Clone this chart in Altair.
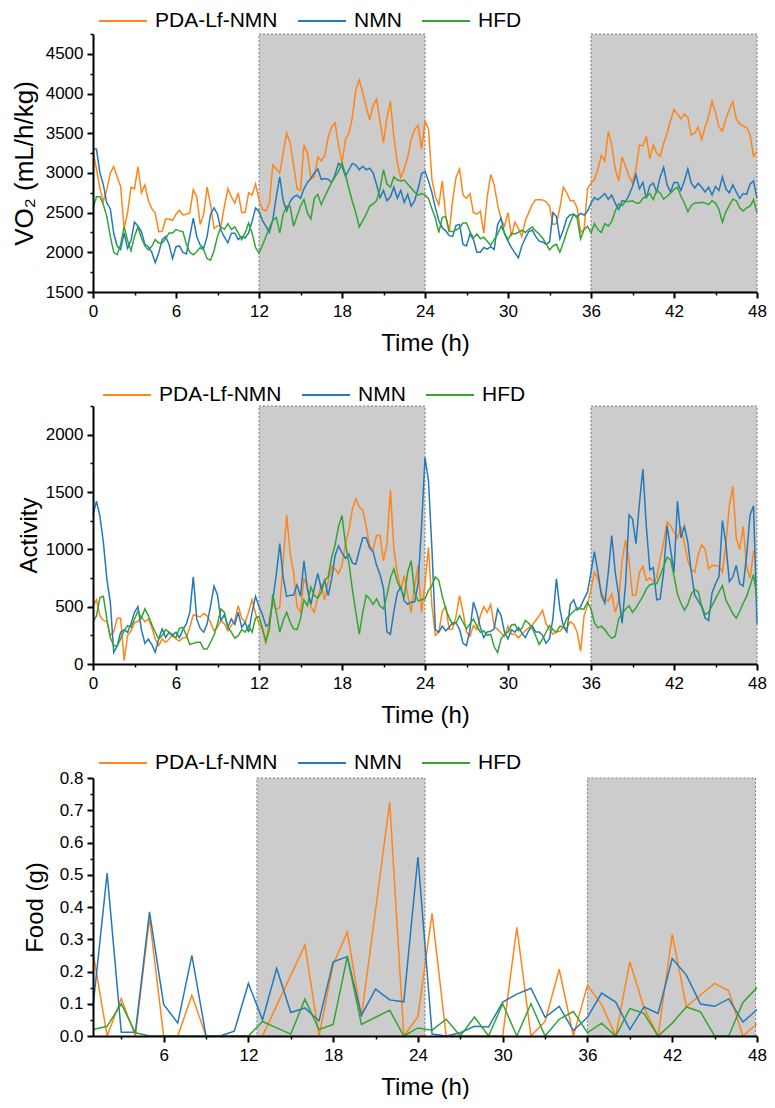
import altair as alt
import pandas as pd

SERIES = ["PDA-Lf-NMN", "NMN", "HFD"]
COLORS = ["#ff8518", "#2479bb", "#33a533"]
FONT = "Liberation Sans"

# time grid for VO2 / activity (every 0.25 h, 0..48)
time_h = [i * 0.25 for i in range(193)]

vo2_pda = [
    3270, 3050, 2800, 2640, 2790, 3000, 3080, 2950,
    2830, 2300, 2500, 2820, 2800, 3080, 2750, 2850,
    2650, 2550, 2495, 2260, 2265, 2420, 2420, 2400,
    2480, 2530, 2470, 2480, 2500, 2790, 2700, 2350,
    2480, 2820, 2600, 2300, 2330, 2340, 2580, 2800,
    2700, 2620, 2750, 2500, 2500, 2750, 2720, 2860,
    2665, 2540, 2520, 2620, 3100, 3050, 3000, 3250,
    3500, 3380, 3100, 2800, 2780, 3350, 3250, 2930,
    2950, 3200, 3150, 3220, 3450, 3580, 3630, 3350,
    3130, 3420, 3500, 3700, 4050, 4170, 4010, 3830,
    3670, 3850, 3930, 3650, 3380, 3700, 3900, 3450,
    3125, 2940, 3050, 3200, 3420, 3550, 3600, 3300,
    3650, 3560, 2920, 2700, 2600, 2900, 2450, 2250,
    2660, 2950, 3050, 2720, 2680, 2740, 2500, 2480,
    2520, 2240, 2700, 2980, 2850, 2600, 2420, 2330,
    2500, 2200, 2380, 2300, 2200, 2400, 2500, 2600,
    2663, 2663, 2660, 2640, 2580, 2350, 2360, 2560,
    2820, 2750, 2650, 2650, 2560, 2250, 2290, 2800,
    2870, 2920, 3050, 3220, 3150, 3520, 3350, 3050,
    2900, 3200, 3080, 2960, 2870, 3050, 3350, 3340,
    3460, 3180, 3350, 3250, 3210, 3370, 3500, 3660,
    3800, 3740, 3680, 3740, 3700, 3480, 3500, 3580,
    3420, 3580, 3710, 3900, 3760, 3580, 3525, 3680,
    3800, 3900, 3680, 3620, 3590, 3570, 3480, 3210,
    3270,
]
vo2_nmn = [
    3300, 3300, 3000, 2850, 2620, 2550, 2240, 2075,
    2034, 2244, 2050, 2150, 2380, 2330, 2260, 2100,
    2070, 2000, 1870, 1990, 2160, 2200, 2100, 1920,
    2070, 2080, 2000, 1980, 2200, 2430, 2200, 2090,
    2050, 2200, 2480, 2560, 2480, 2280, 2190, 2120,
    2240, 2240, 2160, 2200, 2180, 2244, 2390, 2560,
    2517, 2400, 2330, 2250, 2412, 2700, 2950, 2650,
    2520, 2640, 2700, 2720, 2680, 2800, 2880, 2930,
    3000, 3050, 2920, 2930, 2920, 2880, 2980, 3120,
    3084, 2960, 3040, 3120, 3100, 3040, 3084, 3040,
    3060, 3000, 2850, 2690, 2780, 2650, 2700, 2820,
    2680, 2780, 2630, 2730, 2580, 2650, 2800, 2990,
    3020, 2900, 2750, 2560, 2400, 2310, 2270, 2210,
    2200, 2340, 2350, 2100, 2080, 2230, 2160, 2000,
    2000, 2060, 2040, 2070, 2034, 2350, 2430, 2230,
    2140, 2060, 1992, 1930, 2080, 2180, 2260, 2280,
    2200, 2140, 2130, 2100, 2130, 2500, 2450, 2170,
    2280, 2430, 2470, 2480, 2450, 2490, 2470, 2520,
    2620, 2690, 2660, 2700, 2740, 2670, 2720, 2620,
    2540, 2650, 2640, 2720, 2830, 2980, 2800, 2880,
    2680, 2840, 2870, 2760, 2950, 3070, 2850, 2760,
    2880, 2880, 2780, 2900, 3050, 2870, 2810, 2870,
    2820, 2760, 2820, 2720, 2830, 2780, 2950, 2800,
    2750, 2850, 2760, 2680, 2740, 2730, 2860, 2900,
    2680,
]
vo2_hfd = [
    2550, 2700, 2700, 2600, 2450, 2200, 2000, 1970,
    2100, 2320, 2150, 2020, 2200, 2320, 2180, 2080,
    2030, 2076, 2160, 2118, 2118, 2170, 2244, 2244,
    2286, 2270, 2260, 2100, 2000, 1970, 2010, 2060,
    2030, 1920, 1900, 2020, 2200, 2320, 2290, 2360,
    2286, 2320, 2244, 2160, 2244, 2370, 2244, 2060,
    1990, 2090, 2200, 2310, 2400, 2440, 2244, 2480,
    2580, 2580, 2328, 2454, 2580, 2664, 2496, 2420,
    2680, 2730, 2600, 2700, 2790, 2880, 2950, 3020,
    3126, 2980, 2800, 2640, 2496, 2320, 2400, 2480,
    2580, 2610, 2650, 2800, 3042, 2860, 2820, 2950,
    2910, 2900, 2910, 2860, 2810, 2760, 2720, 2740,
    2720, 2680, 2550, 2430, 2250, 2440, 2450, 2270,
    2260, 2280, 2310, 2370, 2370, 2260, 2180, 2230,
    2170, 2190, 2140, 2090, 2160, 2230, 2328, 2244,
    2160, 2240, 2230, 2250, 2280, 2250, 2290, 2320,
    2270, 2230, 2180, 2110, 2030, 2080, 2100, 2000,
    2120, 2260, 2380, 2480, 2430, 2170, 2286, 2328,
    2244, 2360, 2286, 2250, 2360, 2330, 2390, 2520,
    2610, 2590, 2640, 2640, 2650, 2620, 2620, 2680,
    2706, 2740, 2664, 2780, 2748, 2670, 2706, 2748,
    2790, 2820, 2706, 2620, 2510, 2590, 2620, 2620,
    2630, 2620, 2600, 2650, 2620, 2540, 2380, 2510,
    2590, 2670, 2650, 2560, 2520, 2560, 2580, 2664,
    2500,
]

act_pda = [
    509, 560, 420, 380, 370, 250, 280, 400,
    400, 30, 250, 290, 360, 370, 410, 370,
    393, 320, 218, 160, 218, 190, 218, 260,
    218, 200, 230, 230, 320, 430, 420, 410,
    440, 420, 360, 290, 320, 380, 350, 290,
    335, 380, 509, 400, 364, 451, 560, 440,
    350, 300, 170, 400, 530, 480, 490, 900,
    1300, 970, 800, 500, 451, 740, 684, 500,
    451, 590, 684, 560, 720, 850, 830, 790,
    860, 1050, 1170, 1350, 1440, 1370, 1340, 1200,
    1030, 1000, 1120, 1120, 900, 1050, 1520, 1000,
    790, 650, 770, 600, 451, 684, 858, 451,
    700, 1020, 509, 250, 280, 460, 500, 300,
    306, 420, 597, 451, 277, 240, 335, 300,
    422, 500, 451, 520, 330, 300, 270, 240,
    330, 260, 260, 230, 260, 290, 315, 340,
    380, 420, 470, 350, 300, 260, 280, 285,
    320, 310, 370, 345, 277, 110, 422, 509,
    655, 800, 742, 620, 568, 550, 610, 451,
    550, 900, 1080, 900, 600, 600, 800, 850,
    730, 750, 720, 750, 917, 1060, 1237, 1208,
    1150, 1100, 1200, 1050, 900, 820, 800, 950,
    1040, 1000, 830, 860, 860, 850, 800, 1050,
    1380, 1550, 1100, 1000, 1200, 850, 750, 980,
    960,
]
act_nmn = [
    1300, 1420, 1290, 1060, 742, 540, 100, 160,
    277, 300, 277, 350, 450, 500, 300, 180,
    218, 170, 102, 218, 306, 230, 277, 250,
    277, 230, 300, 350, 450, 760, 393, 310,
    277, 350, 509, 680, 600, 380, 430, 320,
    393, 345, 451, 320, 364, 277, 451, 590,
    500, 430, 330, 350, 560, 780, 1050, 750,
    590, 600, 600, 690, 590, 900, 650, 520,
    660, 790, 655, 730, 597, 742, 946, 1030,
    970, 920, 960, 880, 870, 990, 1100, 1100,
    1010, 980, 860, 780, 660, 280, 260, 460,
    620, 670, 550, 520, 540, 540, 700, 1200,
    1800, 1600, 1004, 300, 277, 330, 290, 320,
    360, 360, 300, 180, 160, 300, 540, 450,
    320, 230, 280, 285, 306, 480, 422, 277,
    218, 300, 277, 320, 270, 230, 290, 330,
    280, 280, 250, 180, 220, 400, 742, 480,
    330, 280, 520, 560, 470, 500, 568, 626,
    800, 980, 800, 600, 530, 800, 1121, 800,
    600, 355, 700, 1300, 1266, 1050, 1400, 1700,
    1200, 820, 840, 560, 568, 800, 1208, 1000,
    800, 1420, 1100, 1200, 1063, 800, 600, 550,
    500, 400, 380, 620, 700, 760, 1250, 1050,
    720, 760, 860, 700, 680, 950, 1300, 1380,
    350,
]
act_hfd = [
    364, 420, 580, 590, 393, 230, 160, 160,
    218, 290, 335, 320, 393, 460, 400, 480,
    422, 345, 277, 218, 247, 300, 277, 240,
    230, 310, 320, 250, 170, 180, 190, 190,
    130, 130, 190, 250, 350, 480, 450, 320,
    277, 225, 247, 300, 277, 335, 277, 400,
    415, 310, 200, 300, 610, 450, 277, 380,
    451, 364, 306, 300, 393, 560, 509, 670,
    597, 575, 626, 730, 760, 930, 1040, 1200,
    1295, 1050, 880, 650, 450, 260, 451, 600,
    568, 520, 568, 505, 480, 600, 750, 830,
    720, 650, 590, 800, 900, 620, 550, 560,
    568, 640, 684, 760, 730, 590, 480, 400,
    345, 360, 422, 364, 306, 350, 393, 330,
    277, 290, 250, 260, 150, 100, 220, 260,
    280, 340, 345, 290, 310, 380, 355, 315,
    247, 170, 218, 277, 335, 300, 277, 330,
    320, 400, 430, 460, 490, 480, 480, 540,
    480, 360, 315, 330, 300, 255, 225, 240,
    393, 440, 480, 509, 451, 490, 539, 590,
    655, 690, 700, 700, 770, 850, 930, 910,
    770, 610, 530, 470, 520, 610, 650, 630,
    509, 430, 451, 509, 568, 626, 684, 560,
    500, 440, 400, 460, 530, 590, 680, 780,
    568,
]

# hourly food intake, hours 1..48
food_h = list(range(1, 49))
food_pda = [0.26, 0, 0.116, 0, 0.367, 0, 0, 0.126, 0, 0,
            0, 0, 0, 0.094, 0.188, 0.282, 0, 0.222, 0.322, 0.06,
            0.39, 0.725, 0, 0.06, 0.38, 0, 0, 0, 0, 0,
            0.337, 0, 0.045, 0.207, 0, 0.157, 0.098, 0, 0.23, 0.088,
            0, 0.315, 0.091, 0.127, 0.163, 0.14, 0, 0.038]
food_nmn = [0.09, 0.505, 0.012, 0.012, 0.385, 0.098, 0.04, 0.25, 0, 0,
            0.015, 0.163, 0.05, 0.21, 0.073, 0.087, 0.047, 0.23, 0.246, 0.064,
            0.145, 0.112, 0.106, 0.555, 0.006, 0, 0.01, 0.03, 0.028, 0.105,
            0.13, 0.148, 0.058, 0.092, 0.017, 0.058, 0.133, 0.105, 0.02, 0.09,
            0.07, 0.24, 0.189, 0.099, 0.092, 0.115, 0.043, 0.082]
food_hfd = [0.02, 0.03, 0.1, 0.01, 0, 0, 0, 0, 0, 0,
            0, 0, 0.045, 0.025, 0.006, 0.114, 0.02, 0.036, 0.246, 0.036,
            0.058, 0.08, 0, 0.025, 0.018, 0.052, 0, 0.059, 0, 0.1,
            0, 0.1, 0, 0.052, 0.076, 0.01, 0.04, 0, 0.085, 0.07,
            0, 0.04, 0.09, 0.075, 0, 0, 0.104, 0.15]

# dark-phase shading (hours)
dark_main = ([12, 36], [24, 48])
dark_food = ([12.6, 36], [24.5, 47.9])

x_major = [0, 6, 12, 18, 24, 30, 36, 42, 48]
x_minor = [3, 9, 15, 21, 27, 33, 39, 45]
x_major_food = [6, 12, 18, 24, 30, 36, 42, 48]


def long_df(t, arrays):
    rows = []
    for name, arr in zip(SERIES, arrays):
        for tt, vv in zip(t, arr):
            rows.append({"t": tt, "v": vv, "s": name})
    return pd.DataFrame(rows)


W, H = 664, 258


def panel(df, ydom, ymaj, ymin, yfmt, ytitle, ytpad, ytsize, xdom, xmaj, shade, leg_y, leg_pad):
    xs = alt.Scale(domain=xdom, nice=False, zero=False)
    ys = alt.Scale(domain=ydom, nice=False, zero=False)
    sdf = pd.DataFrame({"lo": shade[0], "hi": shade[1]})
    rect = alt.Chart(sdf).mark_rect(
        fill="#cccccc", stroke="#7a7a7a", strokeWidth=1, strokeDash=[2, 2]
    ).encode(
        x=alt.X("lo:Q", scale=xs, axis=None),
        x2="hi:Q",
        y=alt.value(0),
        y2=alt.value(H),
    )
    lines = alt.Chart(df).mark_line(strokeWidth=1.5).encode(
        x=alt.X("t:Q", scale=xs, axis=alt.Axis(
            values=xmaj, title="Time (h)", orient="bottom", zindex=1,
            labelPadding=5, titlePadding=12)),
        y=alt.Y("v:Q", scale=ys, axis=alt.Axis(
            values=ymaj, format=yfmt, title=ytitle, orient="left", zindex=1,
            labelPadding=4, titlePadding=ytpad, titleFontSize=ytsize)),
        color=alt.Color("s:N", scale=alt.Scale(domain=SERIES, range=COLORS),
                        legend=alt.Legend(
                            orient="none", legendX=17, legendY=leg_y,
                            direction="horizontal", title=None,
                            symbolType="M-2,0H2", symbolSize=576,
                            symbolStrokeWidth=2, labelFontSize=21,
                            labelFont=FONT, labelColor="black",
                            columnPadding=16, labelOffset=19,
                            padding=leg_pad)),
    )
    mdf = pd.DataFrame({"t": xdom, "v": ydom})
    minor = alt.Chart(mdf).mark_point(opacity=0).encode(
        x=alt.X("t:Q", scale=xs, axis=alt.Axis(
            values=x_minor, labels=False, domain=False, tickSize=3,
            tickWidth=1.5, title=None, orient="bottom", zindex=1)),
        y=alt.Y("v:Q", scale=ys, axis=alt.Axis(
            values=ymin, labels=False, domain=False, tickSize=3,
            tickWidth=1.5, title=None, orient="left", zindex=1)),
    )
    return alt.layer(rect, lines, minor).resolve_axis(
        x="independent", y="independent").properties(width=W, height=H)


p1 = panel(long_df(time_h, [vo2_pda, vo2_nmn, vo2_hfd]),
           [1500, 4750], [1500, 2000, 2500, 3000, 3500, 4000, 4500],
           [1750, 2250, 2750, 3250, 3750, 4250, 4750], "d",
           "VO\u2082 (mL/h/kg)", 8, 26, [0, 48], x_major, dark_main, -26, 0)
p2 = panel(long_df(time_h, [act_pda, act_nmn, act_hfd]),
           [0, 2250], [0, 500, 1000, 1500, 2000],
           [250, 750, 1250, 1750, 2250], "d",
           "Activity", 4, 24, [0, 48], x_major, dark_main, -28, 4)
p3 = panel(long_df(food_h, [food_pda, food_nmn, food_hfd]),
           [0, 0.8], [0, 0.1, 0.2, 0.3, 0.4, 0.5, 0.6, 0.7, 0.8],
           [0.05, 0.15, 0.25, 0.35, 0.45, 0.55, 0.65, 0.75], ".1f",
           "Food (g)", 12, 24, [1, 48], x_major_food, dark_food, -28, 0)

chart = alt.vconcat(p1, p2, p3, spacing=23).resolve_scale(
    x="independent", y="independent", color="shared"
).resolve_legend(color="independent").properties(
    padding={"left": 3, "top": 0, "right": 0, "bottom": 0}
).configure_view(stroke=None).configure_axis(
    labelFont=FONT, titleFont=FONT, labelFontSize=17, titleFontSize=24,
    titleFontWeight="normal", labelColor="black", titleColor="black",
    domainColor="black", domainWidth=2, tickColor="black", tickWidth=2,
    tickSize=6, grid=False, labelFlush=False, labelOverlap=False,
)

chart.save("out.html", embed_options={"renderer": "svg", "actions": False})
